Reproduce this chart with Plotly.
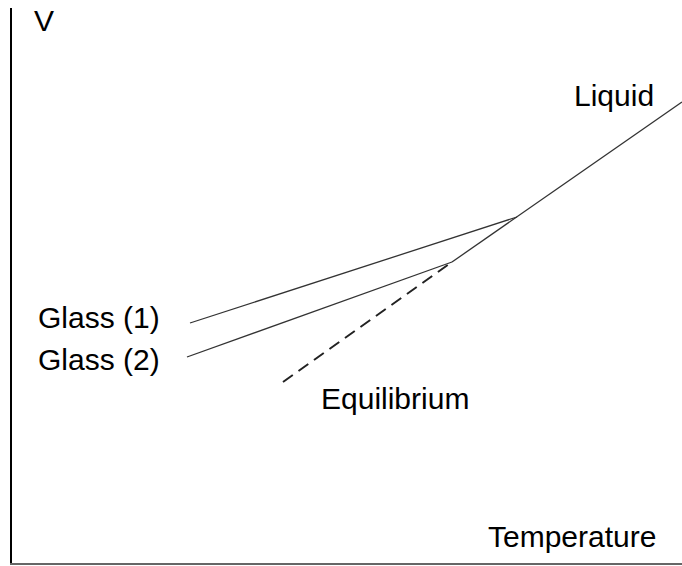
import plotly.graph_objects as go

# Schematic volume–temperature diagram (arbitrary units)
liquid_T = [440, 670]
liquid_V = [301, 461]
glass1_T = [178, 505]
glass1_V = [240, 346]
glass2_T = [175, 440]
glass2_V = [206, 301]
equil_T = [271, 440]
equil_V = [181, 301]

labels = ["V", "Liquid", "Glass (1)", "Glass (2)", "Equilibrium", "Temperature"]
label_T = [32, 602, 87, 87, 383, 560]
label_V = [543, 468, 246, 204, 165, 27]

fig = go.Figure()
line_style = dict(color="#333333", width=1.3)
fig.add_trace(go.Scatter(x=liquid_T, y=liquid_V, mode="lines", line=line_style))
fig.add_trace(go.Scatter(x=glass1_T, y=glass1_V, mode="lines", line=line_style))
fig.add_trace(go.Scatter(x=glass2_T, y=glass2_V, mode="lines", line=line_style))
fig.add_trace(go.Scatter(x=equil_T, y=equil_V, mode="lines",
                         line=dict(color="#222222", width=2, dash="12px,7px")))

for t, x, y in zip(labels, label_T, label_V):
    fig.add_annotation(x=x, y=y, text=t, showarrow=False,
                       font=dict(family="Liberation Sans, Arial", size=30, color="black"))

fig.update_layout(
    width=682, height=566,
    margin=dict(l=12, r=0, t=8, b=3),
    paper_bgcolor="white", plot_bgcolor="white",
    showlegend=False,
    xaxis=dict(range=[0, 670], showgrid=False, zeroline=False, showticklabels=False,
               ticks="", showline=True, linecolor="#666666", linewidth=2),
    yaxis=dict(range=[0, 555], showgrid=False, zeroline=False, showticklabels=False,
               ticks="", showline=True, linecolor="black", linewidth=2),
)
fig.write_html(
    "out.html",
    config={"displayModeBar": False},
    post_script="document.body.style.margin='0';"
                "document.documentElement.style.overflow='hidden';"
                "document.body.style.overflow='hidden';",
)
